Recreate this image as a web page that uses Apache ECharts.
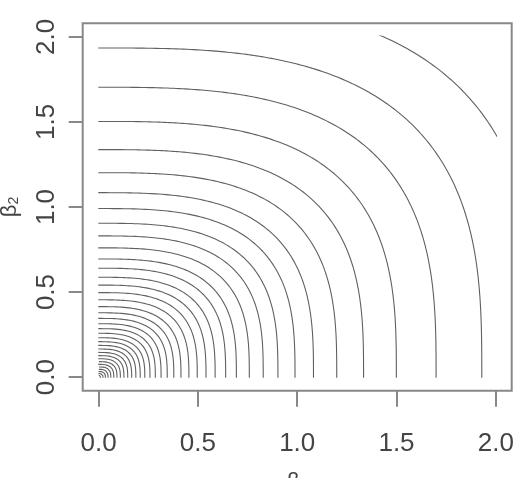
<!DOCTYPE html>
<html>
<head>
<meta charset="utf-8">
<script src="https://cdn.jsdelivr.net/npm/echarts@6/dist/echarts.min.js"></script>
<style>html,body{margin:0;padding:0;background:#fff}#c{width:516px;height:478px}</style>
</head>
<body>
<div id="c"></div>
<script>
// Contour levels: radius at which each contour meets the axes
const contourRadii = [2.217, 1.93, 1.70, 1.50, 1.335, 1.20, 1.083, 0.99, 0.904, 0.83, 0.76, 0.695,
  0.641, 0.588, 0.542, 0.498, 0.456, 0.416, 0.38, 0.347, 0.316, 0.287, 0.26, 0.234, 0.211,
  0.189, 0.168, 0.148, 0.129, 0.111, 0.094, 0.078, 0.063, 0.049, 0.036, 0.024, 0.013];
// Shape exponent of the contours (|b1|^q + |b2|^q = r^q)
const shapeExponent = 3;
const xTicks = [0, 0.5, 1.0, 1.5, 2.0];
const yTicks = [0, 0.5, 1.0, 1.5, 2.0];

function contourPoints(r) {
  const pts = [];
  const n = 240;
  for (let i = 0; i <= n; i++) {
    const t = (Math.PI / 2) * i / n;
    const c = Math.cos(t), s = Math.sin(t);
    pts.push([r * Math.pow(c, 2 / shapeExponent), r * Math.pow(s, 2 / shapeExponent)]);
  }
  return pts;
}

const series = contourRadii.map(r => ({
  type: 'line',
  xAxisIndex: 0, yAxisIndex: 0,
  data: contourPoints(r),
  showSymbol: false,
  symbol: 'none',
  clip: true,
  silent: true,
  lineStyle: { color: '#606060', width: 1.1 },
  animation: false
}));

const font = 'Liberation Sans, Arial, Helvetica, sans-serif';
const rich = {
  b: { fontSize: 22, fontFamily: font, color: '#444', lineHeight: 26, verticalAlign: 'bottom' },
  s: { fontSize: 14, fontFamily: font, color: '#444', verticalAlign: 'bottom' }
};
// R-style 4% range extension for the frame axes
const pad = 0.08;
const chart = echarts.init(document.getElementById('c'), null, { renderer: 'canvas' });
chart.setOption({
  animation: false,
  backgroundColor: '#fff',
  grid: [
    { left: 98.3, right: 20.3, top: 36, bottom: 100.3, show: false, containLabel: false, outerBoundsMode: 'none' },
    { left: 82.7, right: 4.3, top: 23.3, bottom: 87.3, show: true, borderColor: '#888', borderWidth: 2, backgroundColor: 'transparent', containLabel: false, outerBoundsMode: 'none' }
  ],
  xAxis: [
    { type: 'value', gridIndex: 0, show: false, min: xTicks[0], max: xTicks[xTicks.length - 1] },
    {
      type: 'value', gridIndex: 1, min: xTicks[0] - pad, max: xTicks[xTicks.length - 1] + pad,
      axisLine: { show: false, onZero: false },
      axisTick: { show: true, inside: false, length: 16, customValues: xTicks, lineStyle: { color: '#888', width: 2 } },
      splitLine: { show: false },
      axisLabel: { margin: 40, customValues: xTicks, color: '#444', fontSize: 26, fontFamily: font, formatter: v => v.toFixed(1) },
      name: '{b|β}{s|1}', nameLocation: 'middle', nameGap: 76,
      nameTextStyle: { rich: rich }
    }
  ],
  yAxis: [
    { type: 'value', gridIndex: 0, show: false, min: yTicks[0], max: yTicks[yTicks.length - 1] },
    {
      type: 'value', gridIndex: 1, min: yTicks[0] - pad, max: yTicks[yTicks.length - 1] + pad,
      axisLine: { show: false, onZero: false },
      axisTick: { show: true, inside: false, length: 14, customValues: yTicks, lineStyle: { color: '#888', width: 2 } },
      splitLine: { show: false },
      axisLabel: { margin: 23, rotate: 90, customValues: yTicks, color: '#444', fontSize: 26, fontFamily: font, formatter: v => v.toFixed(1) },
      name: '{b|β}{s|2}', nameLocation: 'middle', nameGap: 62, nameRotate: 90,
      nameTextStyle: { rich: rich }
    }
  ],
  series: series
});
</script>
</body>
</html>
